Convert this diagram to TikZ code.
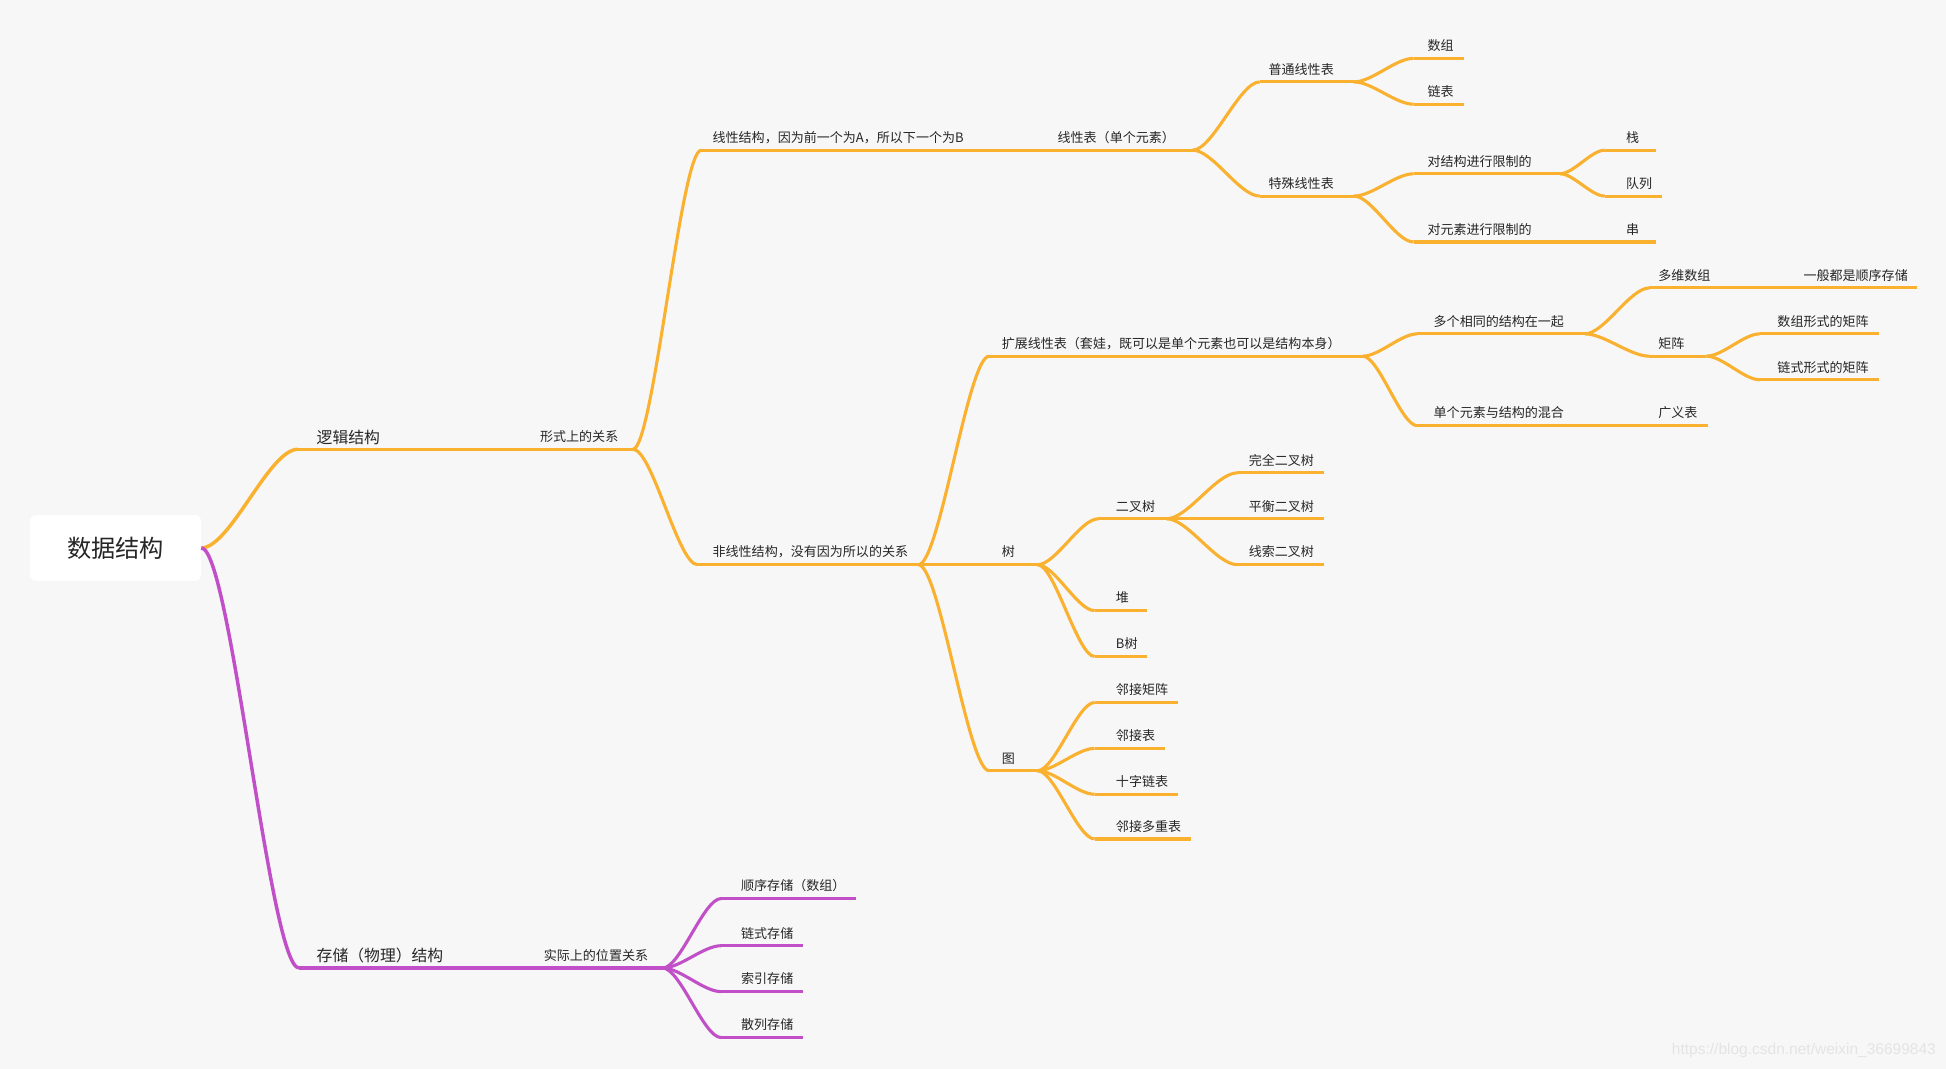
\documentclass[tikz,border=0pt]{standalone}
\usepackage{fontspec}
\usepackage{xcolor}
\usepackage{tikz}
\usetikzlibrary{calc}
\newfontfamily\cjk{Noto Sans CJK SC}
\newfontfamily\wmfont{Liberation Sans}
\definecolor{bggray}{HTML}{F7F7F7}
\definecolor{borange}{HTML}{FAB12F}
\definecolor{bpurple}{HTML}{C150C8}
\definecolor{txtgray}{HTML}{262626}
\definecolor{wmgray}{HTML}{E4E4E4}

\begin{document}
\begin{tikzpicture}[
    x=1pt, y=-1pt,
    lbl/.style={anchor=base west, inner sep=0pt, font=\cjk\fontsize{10.5}{12}\selectfont, text=txtgray},
    biglbl/.style={lbl, font=\cjk\fontsize{12.75}{15}\selectfont},
    rootbox/.style={fill=white, rounded corners=5pt, minimum width=138pt, minimum height=53pt, inner sep=0pt, font=\cjk\fontsize{19.5}{22}\selectfont, text=txtgray},
    oline/.style={draw=borange, line width=2.5pt},
    pline/.style={draw=bpurple, line width=2.5pt},
    thick line/.style={line width=2.8pt}
]
% background and frame of the page
\fill[bggray] (0,0) rectangle (1568,861);
\useasboundingbox (0,0) rectangle (1568,861);

% root
\node[rootbox] (root) at (93,441.5) {数据结构};
\coordinate (root-e) at (root.east);

% first level
\coordinate (lj-s) at (240,362); \coordinate (lj-e) at (423,362);
\node[biglbl] (lj) at (255,357) {逻辑结构};
\draw[oline, thick line] (lj-s) -- (lj-e);
\coordinate (cc-s) at (241,780); \coordinate (cc-e) at (426,780);
\node[biglbl] (cc) at (255,775) {存储（物理）结构};
\draw[pline, thick line] (cc-s) -- (cc-e);

% logical branch (orange)
\foreach \n/\xs/\xe/\y/\tx/\txt in {
    xsgx/423/510/362/435/形式上的关系,
    xxjg/565/840/121/574/线性结构，因为前一个为A，所以下一个为B,
    xxb/840/961/121/852/线性表（单个元素）,
    ptb/1015/1091/66/1022/普通线性表,
    sz/1139/1180/47/1150/数组,
    lb/1139/1180/84/1150/链表,
    tsb/1015/1091/158/1022/特殊线性表,
    djg/1139/1257/140/1150/对结构进行限制的,
    zhan/1293/1334/121/1310/栈,
    dl/1293/1339/158/1310/队列,
    dys/1139/1296/195/1150/对元素进行限制的,
    chuan/1296/1334/195/1310/串,
    fxx/562/740/455/574/非线性结构，没有因为所以的关系,
    kz/797/1098/287/807/扩展线性表（套娃，既可以是单个元素也可以是结构本身）,
    dgxt/1142/1277/269/1155/多个相同的结构在一起,
    dwsz/1329/1441/232/1336/多维数组,
    ybs/1441/1545/232/1453/一般都是顺序存储,
    jz/1329/1375/287/1336/矩阵,
    szjz/1418/1514/269/1432/数组形式的矩阵,
    lsjz/1418/1514/306/1432/链式形式的矩阵,
    dghh/1142/1324/343/1155/单个元素与结构的混合,
    gyb/1324/1376/343/1336/广义表,
    shu/797/836/455/807/树,
    ecs/885/940/418/899/二叉树,
    wq/997/1067/381/1006/完全二叉树,
    ph/997/1067/418/1006/平衡二叉树,
    xsecs/997/1067/455/1006/线索二叉树,
    dui/882/924/492/899/堆,
    bs/882/924/529/899/B树,
    tu/797/836/621/807/图,
    ljjz/882/949/566/899/邻接矩阵,
    ljb/882/939/603/899/邻接表,
    szlb/882/949/640/899/十字链表,
    ljdc/882/960/676/899/邻接多重表%
}{
    \coordinate (\n-s) at (\xs,\y);
    \coordinate (\n-e) at (\xe,\y);
    \node[lbl] (\n) at (\tx,\y-6.2) {\txt};
    \draw[oline] (\n-s) -- (\n-e);
}

% storage branch (purple)
\foreach \n/\xs/\xe/\y/\tx/\txt in {
    sjwz/426/534/780/438/实际上的位置关系,
    sxcc/581/690/724/597/顺序存储（数组）,
    lscc/581/647/762/597/链式存储,
    sycc/581/647/799/597/索引存储,
    slcc/581/647/836/597/散列存储%
}{
    \coordinate (\n-s) at (\xs,\y);
    \coordinate (\n-e) at (\xe,\y);
    \node[lbl] (\n) at (\tx,\y-6.2) {\txt};
    \draw[pline] (\n-s) -- (\n-e);
}

% connectors
\foreach \a/\b/\w in {root/lj/2.8, lj/xsgx/2.8, xsgx/xxjg/2.5, xsgx/fxx/2.5,
    xxjg/xxb/2.5, xxb/ptb/2.5, xxb/tsb/2.5, ptb/sz/2.5, ptb/lb/2.5,
    tsb/djg/2.5, tsb/dys/2.5, djg/zhan/2.5, djg/dl/2.5, dys/chuan/2.5,
    fxx/kz/2.5, fxx/shu/2.5, fxx/tu/2.5, kz/dgxt/2.5, kz/dghh/2.5,
    dgxt/dwsz/2.5, dgxt/jz/2.5, dwsz/ybs/2.5, jz/szjz/2.5, jz/lsjz/2.5,
    dghh/gyb/2.5, shu/ecs/2.5, shu/dui/2.5, shu/bs/2.5, ecs/wq/2.5,
    ecs/ph/2.5, ecs/xsecs/2.5, tu/ljjz/2.5, tu/ljb/2.5, tu/szlb/2.5, tu/ljdc/2.5}{
    \path ($(\a-e)!.3!(\b-s)$) coordinate (c1) ($(\a-e)!.7!(\b-s)$) coordinate (c2);
    \draw[oline, line width=\w pt] (\a-e) .. controls (c1 |- \a-e) and (c2 |- \b-s) .. (\b-s);
}
\foreach \a/\b/\w in {root/cc/2.8, cc/sjwz/2.8, sjwz/sxcc/2.5, sjwz/lscc/2.5,
    sjwz/sycc/2.5, sjwz/slcc/2.5}{
    \path ($(\a-e)!.3!(\b-s)$) coordinate (c1) ($(\a-e)!.7!(\b-s)$) coordinate (c2);
    \draw[pline, line width=\w pt] (\a-e) .. controls (c1 |- \a-e) and (c2 |- \b-s) .. (\b-s);
}

% watermark
\node[anchor=base east, inner sep=0pt, font=\wmfont\fontsize{12.5}{14}\selectfont, text=wmgray] (wm) at (1560,850) {https://blog.csdn.net/weixin\_36699843};
\end{tikzpicture}
\end{document}
